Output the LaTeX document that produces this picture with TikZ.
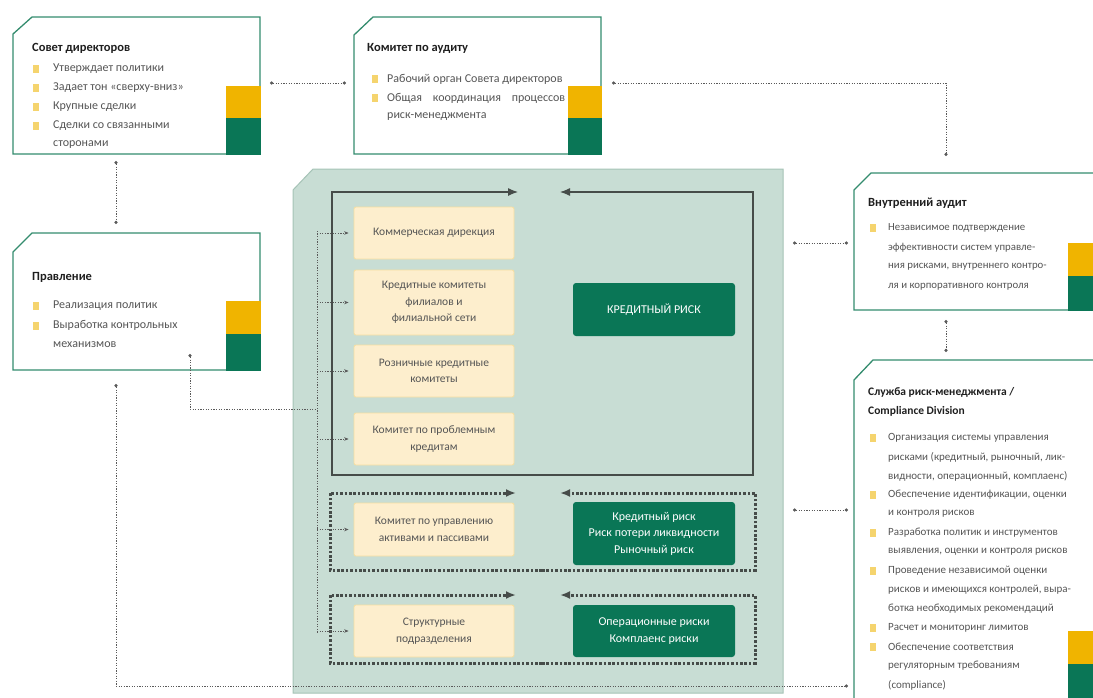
\documentclass[tikz,border=0pt]{standalone}
\usepackage{fontspec}
\setmainfont{Carlito}
\usetikzlibrary{arrows.meta}
\definecolor{bgreen}{RGB}{52,140,110}
\definecolor{dgreen}{RGB}{10,118,86}
\definecolor{yblock}{RGB}{240,180,0}
\definecolor{panelc}{RGB}{200,221,212}
\definecolor{panelb}{RGB}{165,195,182}
\definecolor{cream}{RGB}{253,238,205}
\definecolor{creamb}{RGB}{246,222,160}
\definecolor{txtg}{RGB}{85,85,85}
\definecolor{frameg}{RGB}{70,76,73}
\definecolor{bul}{RGB}{245,212,110}
\definecolor{conncol}{RGB}{90,90,90}
\begin{document}
\begin{tikzpicture}[x=1pt,y=-1pt,
  boxline/.style={draw=bgreen,line width=1.3pt,fill=white},
  ttl/.style={anchor=west,inner sep=0pt,font=\fontsize{12.5}{14}\selectfont\bfseries,text=black!88},
  ttls/.style={anchor=west,inner sep=0pt,font=\fontsize{11.5}{14}\selectfont\bfseries,text=black!88},
  txt/.style={anchor=west,inner sep=0pt,font=\fontsize{12}{14}\selectfont,text=txtg},
  txtm/.style={anchor=west,inner sep=0pt,font=\fontsize{10.8}{13}\selectfont,text=txtg},
  txts/.style={anchor=west,inner sep=0pt,font=\fontsize{11}{13}\selectfont,text=txtg},
  bulletsq/.style={fill=bul},
  ybox/.style={draw=creamb,line width=0.8pt,fill=cream,rounded corners=2pt,minimum width=160pt,minimum height=52pt,align=center,text=txtg,font=\fontsize{11.5}{16.5}\selectfont,inner sep=0pt},
  gbox/.style={fill=dgreen,rounded corners=3pt,minimum width=162pt,align=center,text=white,font=\fontsize{12}{16.5}\selectfont,inner sep=0pt},
  connline/.style={draw=conncol,line width=0.6pt,dash pattern=on 1.2pt off 1.4pt},
  conn/.style={connline,{Circle[length=3.2pt]}-{Circle[length=3.2pt]}},
  frameline/.style={draw=frameg,line width=1.2pt},
  dframe/.style={draw=frameg,line width=3pt,dash pattern=on 2.6pt off 1.8pt},
  bigtip/.style={-{Latex[length=10pt,width=8pt]}},
  disttip/.style={connline,-{Stealth[length=4.5pt,width=3.5pt]}}
]
\useasboundingbox (0,0) rectangle (1093,697);

% ---------- central panel ----------
\filldraw[fill=panelc,draw=panelb,line width=1pt] (293,190) -- (313,169) -- (783,169) -- (783,693) -- (293,693) -- cycle;

% frame 1 (solid)
\draw[frameline,bigtip] (542,475) -- (332,475) -- (332,192) -- (518,192);
\draw[frameline,bigtip] (542,475) -- (753,475) -- (753,192) -- (560,192);
% frame 2 (dotted)
\draw[dframe,bigtip] (542,570) -- (330,570) -- (330,493) -- (516,493);
\draw[dframe,bigtip] (542,570) -- (755,570) -- (755,493) -- (560,493);
% frame 3 (dotted)
\draw[dframe,bigtip] (542,663) -- (330,663) -- (330,595) -- (516,595);
\draw[dframe,bigtip] (542,663) -- (755,663) -- (755,595) -- (560,595);

% yellow boxes
\node[ybox] (kd) at (434,233) {Коммерческая дирекция};
\node[ybox,minimum height=65pt] (kk) at (434,302.5) {Кредитные комитеты\\филиалов и\\филиальной сети};
\node[ybox] (rk) at (434,371) {Розничные кредитные\\комитеты};
\node[ybox] (kp) at (434,439) {Комитет по проблемным\\кредитам};
\node[ybox,minimum height=53pt] (kup) at (434,529.5) {Комитет по управлению\\активами и пассивами};
\node[ybox] (sp) at (434,631) {Структурные\\подразделения};

% green boxes
\node[gbox,minimum height=53pt] (cr) at (654,309.5) {КРЕДИТНЫЙ РИСК};
\node[gbox,minimum height=63pt] (lr) at (654,533.5) {Кредитный риск\\Риск потери ликвидности\\Рыночный риск};
\node[gbox,minimum height=52pt] (orr) at (654,631) {Операционные риски\\Комплаенс риски};

% ---------- Совет директоров ----------
\draw[boxline] (13,34) -- (32,17) -- (260,17) -- (260,154) -- (13,154) -- cycle;
\fill[yblock] (226,86) rectangle (260.6,118);
\fill[dgreen] (226,118) rectangle (260.6,154.6);
\node[ttl] (sdt) at (32,48) {Совет директоров};
\foreach \t [count=\i] in {Утверждает политики,Задает тон «сверху-вниз»,Крупные сделки,Сделки со связанными,сторонами}
  \node[txt] (sd\i) at (53,{50+19*\i}) {\t};
\foreach \yy in {69,88,107,126} \fill[bulletsq] (33,\yy-4) rectangle (38.5,\yy+4);

% ---------- Комитет по аудиту ----------
\draw[boxline] (354,35) -- (373,17) -- (601,17) -- (601,154) -- (354,154) -- cycle;
\fill[yblock] (568,86) rectangle (601.6,118);
\fill[dgreen] (568,118) rectangle (601.6,154.6);
\node[ttl] (kat) at (367,48) {Комитет по аудиту};
\foreach \t [count=\i] in {Рабочий орган Совета директоров,{\makebox[178pt][s]{Общая координация процессов}},риск-менеджмента}
  \node[txt] (ka\i) at (387,{60+19*\i}) {\t};
\foreach \yy in {79,98} \fill[bulletsq] (372,\yy-4) rectangle (377.5,\yy+4);

% ---------- Правление ----------
\draw[boxline] (13,252) -- (32,233) -- (260,233) -- (260,370) -- (13,370) -- cycle;
\fill[yblock] (226,301) rectangle (260.6,334);
\fill[dgreen] (226,334) rectangle (260.6,370.6);
\node[ttl] (prt) at (32,277) {Правление};
\foreach \t [count=\i] in {Реализация политик,Выработка контрольных,механизмов}
  \node[txt] (pr\i) at (53,{286.5+19.5*\i}) {\t};
\foreach \yy in {306,326} \fill[bulletsq] (33,\yy-4) rectangle (38.5,\yy+4);

% ---------- Внутренний аудит ----------
\draw[boxline] (1095,310) -- (854,310) -- (854,190) -- (871,173) -- (1095,173);
\fill[yblock] (1068,243) rectangle (1094,276);
\fill[dgreen] (1068,276) rectangle (1094,310.6);
\node[ttl] (vat) at (868,203) {Внутренний аудит};
\foreach \t [count=\i] in {Независимое подтверждение,эффективности систем управле-,{ния рисками, внутреннего контро-},ля и корпоративного контроля}
  \node[txtm] (va\i) at (888,{208.4+19.6*\i}) {\t};
\fill[bulletsq] (870,224) rectangle (875.5,232);

% ---------- Служба риск-менеджмента ----------
\draw[boxline] (1095,360) -- (873,360) -- (854,380) -- (854,699);
\fill[yblock] (1068,631) rectangle (1094,664);
\fill[dgreen] (1068,664) rectangle (1094,698);
\node[ttls] (slt1) at (868,392) {Служба риск-менеджмента /};
\node[ttls] (slt2) at (868,411) {Compliance Division};
\foreach \t [count=\i] in {Организация системы управления,{рисками (кредитный, рыночный, лик-},{видности, операционный, комплаенс)},{Обеспечение идентификации, оценки},и контроля рисков,Разработка политик и инструментов,{выявления, оценки и контроля рисков},Проведение независимой оценки,{рисков и имеющихся контролей, выра-},ботка необходимых рекомендаций,Расчет и мониторинг лимитов,Обеспечение соответствия,регуляторным требованиям,(compliance)}
  \node[txts] (sl\i) at (888,{419+19*\i}) {\t};
\foreach \yy in {438,495,533,571,628,647} \fill[bulletsq] (870,\yy-4) rectangle (875.5,\yy+4);

% ---------- connectors ----------
\coordinate (trunkTop) at (317,231);
\coordinate (trunkBot) at (317,633);
\draw[connline] (trunkTop) -- (trunkBot);
\foreach \n in {kd,kk,rk,kp,kup,sp}
  \draw[disttip,shorten >=5pt] (\n.west -| trunkTop) -- (\n.west);

\coordinate (prA) at (190,354);
\coordinate (jn) at (317,409);
\draw[connline,{Circle[length=3.2pt]}-] (prA) |- (jn);

\coordinate (prB) at (116,384);
\coordinate (slB) at (848,686);
\draw[conn] (prB) |- (slB);

\coordinate (sdB) at (116,161);
\coordinate (prT) at (116,224);
\draw[conn] (sdB) -- (prT);

\coordinate (sdR) at (270,83);
\coordinate (kaL) at (346,83);
\draw[conn] (sdR) -- (kaL);

\coordinate (kaR) at (612,83);
\coordinate (vaT) at (946,156);
\draw[conn] (kaR) -| (vaT);

\coordinate (vaB) at (946,320);
\coordinate (slT) at (946,352);
\draw[conn] (vaB) -- (slT);

\coordinate (pnA) at (793,243);
\coordinate (vaL) at (848,243);
\draw[conn] (pnA) -- (vaL);

\coordinate (pnB) at (793,510);
\coordinate (slL) at (848,510);
\draw[conn] (pnB) -- (slL);
\end{tikzpicture}
\end{document}
